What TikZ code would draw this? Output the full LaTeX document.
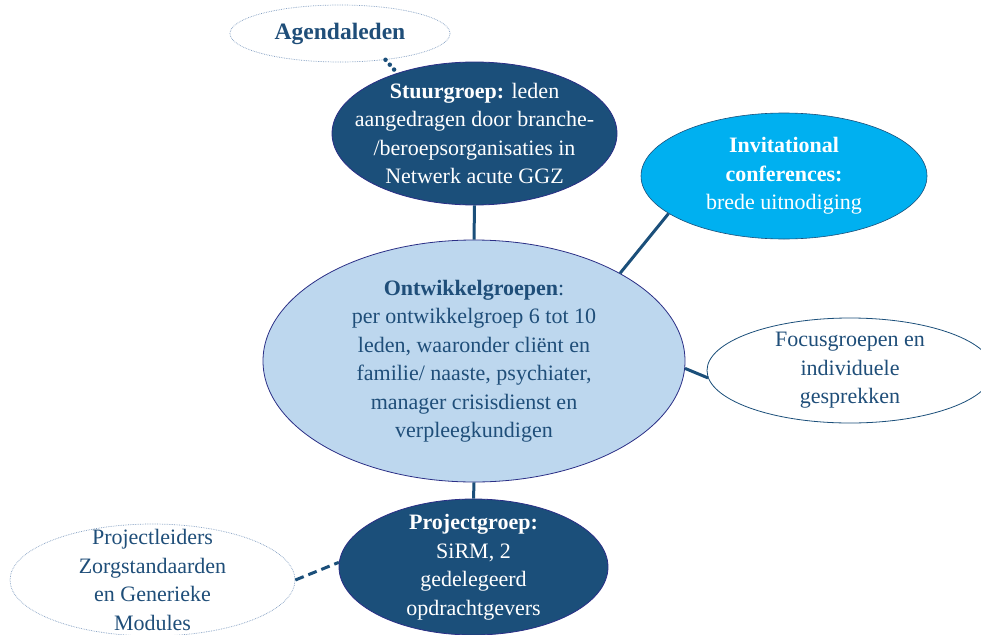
\documentclass[tikz,border=0pt]{standalone}
\usepackage{fontspec}
\setmainfont{Liberation Serif}
\usetikzlibrary{shapes.geometric}
\definecolor{navy}{HTML}{1B4F7A}
\definecolor{txtblue}{HTML}{1F4E79}
\definecolor{lightfill}{HTML}{BDD7EE}
\definecolor{cyanfill}{HTML}{00B0F0}
\definecolor{edgeblue}{HTML}{2B2F86}
\definecolor{dotgray}{HTML}{7F9CC0}
\tikzset{
  bubble/.style={ellipse, inner sep=0pt},
  wtxt/.style={align=center, inner sep=0pt, text=white, font=\fontsize{22}{28.5}\selectfont},
  btxt/.style={align=center, inner sep=0pt, text=txtblue, font=\fontsize{22}{28.5}\selectfont},
  darkbubble/.style={bubble, fill=navy, draw=edgeblue, line width=0.8pt},
  lightbubble/.style={bubble, fill=lightfill, draw=edgeblue, line width=0.8pt},
  cyanbubble/.style={bubble, fill=cyanfill, draw=navy, line width=0.6pt},
  openbubble/.style={bubble, fill=white, draw=navy, line width=0.8pt},
  dotbubble/.style={bubble, fill=white, draw=dotgray, densely dotted, line width=0.7pt},
  link/.style={draw=navy, line width=3pt},
  dashlink/.style={link, dash pattern=on 9pt off 5pt},
  dotlink/.style={draw=navy, line width=4.5pt, line cap=round, dash pattern=on 0pt off 6.5pt}
}
\begin{document}
\begin{tikzpicture}[x=1pt,y=-1pt]
\useasboundingbox (0,0) rectangle (981,634);
\clip (0,0) rectangle (981,634);
\node[dotbubble, minimum width=220pt, minimum height=57pt,
  label={[btxt, font=\fontsize{23.5}{28.5}\selectfont]center:\textbf{Agendaleden}}] (agenda) at (340,33.5) {};
\node[darkbubble, minimum width=285pt, minimum height=143pt,
  label={[wtxt]center:{\textbf{Stuurgroep:} leden\\aangedragen door branche-\\/beroepsorganisaties in\\Netwerk acute GGZ}}] (stuur) at (474.5,133.5) {};
\node[cyanbubble, minimum width=286pt, minimum height=126pt,
  label={[wtxt]center:{\textbf{Invitational}\\\textbf{conferences:}\\brede uitnodiging}}] (invit) at (784,176) {};
\node[lightbubble, minimum width=422pt, minimum height=242pt,
  label={[btxt]center:{\textbf{Ontwikkelgroepen}:\\per ontwikkelgroep 6 tot 10\\leden, waaronder cliënt en\\familie/ naaste, psychiater,\\manager crisisdienst en\\verpleegkundigen}}] (ontw) at (474,361) {};
\node[openbubble, minimum width=286pt, minimum height=105pt,
  label={[btxt]center:{Focusgroepen en\\individuele\\gesprekken}}] (focus) at (850,370.5) {};
\node[darkbubble, minimum width=269pt, minimum height=136pt,
  label={[wtxt]center:{\textbf{Projectgroep:}\\SiRM, 2\\gedelegeerd\\opdrachtgevers}}] (proj) at (473.5,567) {};
\node[dotbubble, minimum width=285pt, minimum height=112pt,
  label={[btxt]center:{Projectleiders\\Zorgstandaarden\\en Generieke\\Modules}}] (leiders) at (152.5,580) {};
\draw[link] (stuur.south) -- (ontw.north);
\draw[link] (ontw.31) -- (invit.198);
\draw[link] (ontw.-2) -- (focus.183);
\draw[link] (ontw.south) -- (proj.north);
\draw[dashlink] (leiders.east) -- (proj.178);
\draw[dotlink] (agenda.-30) -- (stuur.142);
\end{tikzpicture}
\end{document}
